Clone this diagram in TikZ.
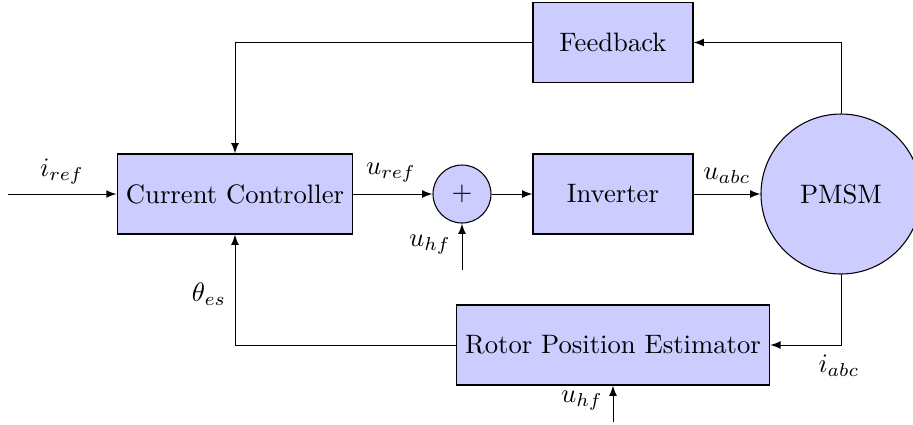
\documentclass[tikz,border=0pt]{standalone}
\usetikzlibrary{arrows}
\begin{document}
\begin{tikzpicture}[x=0.375pt,y=-0.375pt,
  block/.style={draw, fill=blue!20, rectangle, minimum height=3em, minimum width=6em},
  sumnode/.style={draw, fill=blue!20, circle, minimum size=21.75pt, inner sep=0pt},
  motor/.style={draw, fill=blue!20, circle, minimum size=60pt, inner sep=0pt},
  sig/.style={inner sep=0pt},
  conn/.style={-latex, line width=0.35pt}]
\useasboundingbox (0,0) rectangle (913,424);

% blocks
\node[block] (cc) at (235,194) {Current Controller};
\node[sumnode] (sum) at (462,194) {$+$};
\node[block] (inv) at (613,194) {Inverter};
\node[motor] (pmsm) at (841,194) {PMSM};
\node[block] (fb) at (613,42.5) {Feedback};
\node[block, minimum width=117pt] (rpe) at (613,345) {Rotor Position Estimator};

% free ends
\coordinate (in) at (8,194);
\coordinate (hf1) at (462,270);
\coordinate (hf2) at (613,422);

% forward path
\draw[conn] (in) -- (cc.west);
\draw[conn] (cc.east) -- (sum.west);
\draw[conn] (sum.east) -- (inv.west);
\draw[conn] (inv.east) -- (pmsm.west);

% feedback paths
\draw[conn] (pmsm.north) |- (fb.east);
\draw[conn] (fb.west) -| (cc.north);
\draw[conn] (pmsm.south) |- (rpe.east);
\draw[conn] (rpe.west) -| (cc.south);

% injected high-frequency voltage
\draw[conn] (hf1) -- (sum.south);
\draw[conn] (hf2) -- (rpe.south);

% signal labels
\node[sig] (lref) at (62,172) {$i_{ref}$};
\node[sig] (luref) at (391,173) {$u_{ref}$};
\node[sig] (luabc) at (727,176) {$u_{abc}$};
\node[sig] (ltheta) at (209,294) {$\theta_{es}$};
\node[sig] (liabc) at (839,366) {$i_{abc}$};
\node[sig] (lhf1) at (430,245) {$u_{hf}$};
\node[sig] (lhf2) at (582,401) {$u_{hf}$};
\end{tikzpicture}
\end{document}
